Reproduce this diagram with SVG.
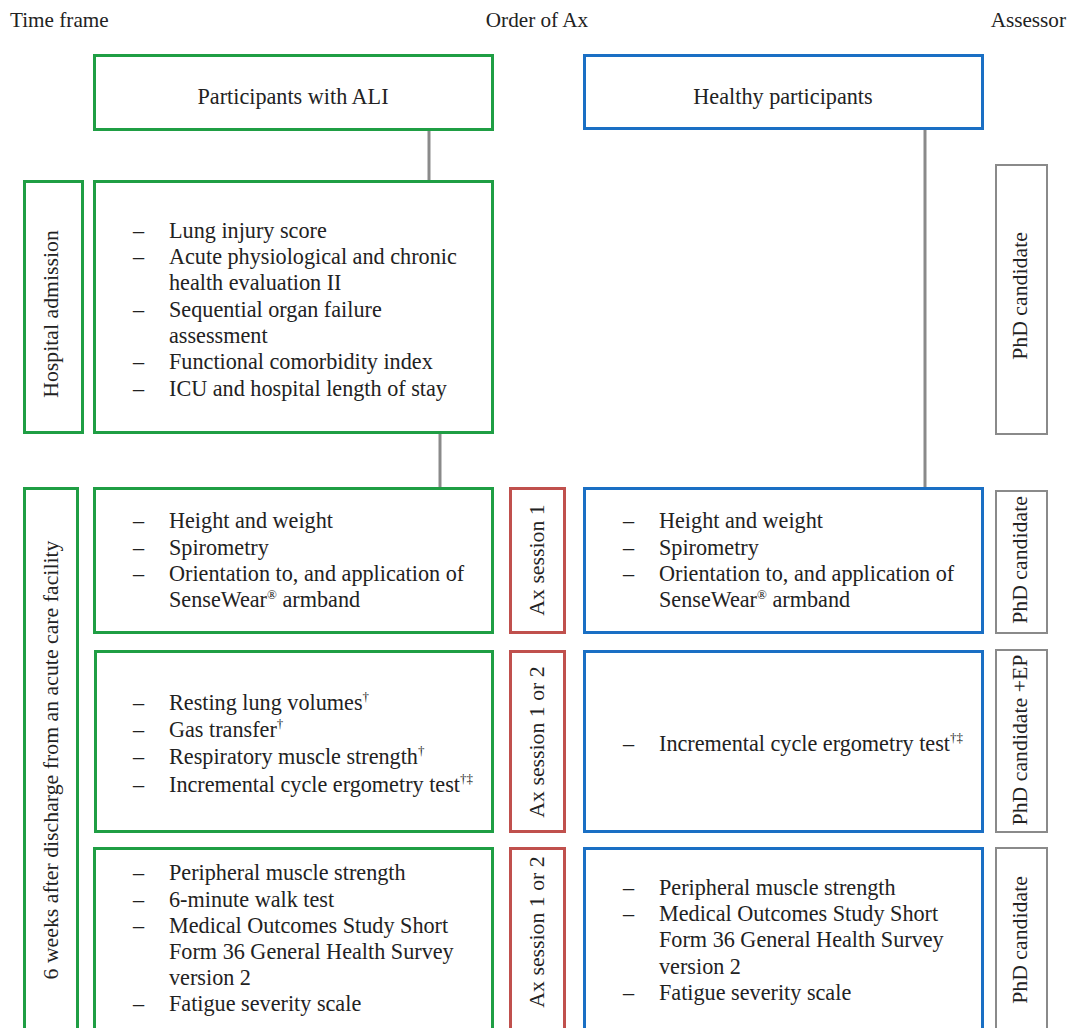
<svg xmlns="http://www.w3.org/2000/svg" width="1074" height="1028" viewBox="0 0 1074 1028">
<style>
text{font-family:"Liberation Serif","Times New Roman",serif;fill:#222;font-size:22.2px}
.h{font-size:21.2px}
.v{font-size:21.8px}
.g{fill:#fff;stroke:#1f9e44;stroke-width:3}
.b{fill:#fff;stroke:#1a6fc4;stroke-width:3}
.r{fill:#fff;stroke:#c0504d;stroke-width:3}
.a{fill:#fff;stroke:#8a8a8a;stroke-width:2}
.c{stroke:#8a8a8a;stroke-width:3;fill:none}
.m{text-anchor:middle}
.sup{font-size:13px;fill:#222}
</style>
<rect width="1074" height="1028" fill="#fff"/>
<g id="headers">
<text x="10" y="27" class="h">Time frame</text>
<text x="537" y="27" class="h m">Order of Ax</text>
<text x="1066" y="27" class="h" text-anchor="end">Assessor</text>
</g>
<g id="connectors">
<line class="c" x1="429" y1="129" x2="429" y2="181"/>
<line class="c" x1="440" y1="432" x2="440" y2="488"/>
<line class="c" x1="925" y1="128" x2="925" y2="488"/>
</g>
<g id="ali">
<rect class="g" x="94.5" y="55.5" width="398" height="74"/>
<text x="293" y="104" class="m">Participants with ALI</text>
</g>
<g id="healthy">
<rect class="b" x="584.5" y="55.5" width="398" height="73"/>
<text x="783" y="104" class="m">Healthy participants</text>
</g>
<g id="hosp-label">
<rect class="g" x="24.5" y="181.5" width="58" height="251"/>
<text transform="translate(58,314) rotate(-90)" class="v m">Hospital admission</text>
</g>
<g id="hosp-ali">
<rect class="g" x="94.5" y="181.5" width="398" height="251"/>
<text x="133" y="238">–</text><text x="169" y="238">Lung injury score</text>
<text x="133" y="264">–</text><text x="169" y="264">Acute physiological and chronic</text>
<text x="169" y="290">health evaluation II</text>
<text x="133" y="317">–</text><text x="169" y="317">Sequential organ failure</text>
<text x="169" y="343">assessment</text>
<text x="133" y="369">–</text><text x="169" y="369">Functional comorbidity index</text>
<text x="133" y="396">–</text><text x="169" y="396">ICU and hospital length of stay</text>
</g>
<g id="hosp-assessor">
<rect class="a" x="996" y="165" width="51" height="269"/>
<text transform="translate(1027,296) rotate(-90)" class="v m">PhD candidate</text>
</g>
<g id="weeks-label">
<rect class="g" x="24.5" y="488.5" width="53" height="560"/>
<text transform="translate(58,760) rotate(-90)" class="v m">6 weeks after discharge from an acute care facility</text>
</g>
<g id="s1-ali">
<rect class="g" x="94.5" y="488.5" width="398" height="144"/>
<text x="133" y="528">–</text><text x="169" y="528">Height and weight</text>
<text x="133" y="555">–</text><text x="169" y="555">Spirometry</text>
<text x="133" y="581">–</text><text x="169" y="581">Orientation to, and application of</text>
<text x="169" y="607">SenseWear<tspan class="sup" dy="-8">®</tspan><tspan dy="8"> armband</tspan></text>
</g>
<g id="s1-order">
<rect class="r" x="510.5" y="488.5" width="54" height="144"/>
<text transform="translate(544,560) rotate(-90)" class="v m">Ax session 1</text>
</g>
<g id="s1-healthy">
<rect class="b" x="584.5" y="488.5" width="398" height="144"/>
<text x="623" y="528">–</text><text x="659" y="528">Height and weight</text>
<text x="623" y="555">–</text><text x="659" y="555">Spirometry</text>
<text x="623" y="581">–</text><text x="659" y="581">Orientation to, and application of</text>
<text x="659" y="607">SenseWear<tspan class="sup" dy="-8">®</tspan><tspan dy="8"> armband</tspan></text>
</g>
<g id="s1-assessor">
<rect class="a" x="996" y="491" width="51" height="142"/>
<text transform="translate(1027,560) rotate(-90)" class="v m">PhD candidate</text>
</g>
<g id="s2-ali">
<rect class="g" x="95.5" y="651.5" width="397" height="180"/>
<text x="133" y="710">–</text><text x="169" y="710">Resting lung volumes<tspan class="sup" dy="-9">†</tspan></text>
<text x="133" y="737">–</text><text x="169" y="737">Gas transfer<tspan class="sup" dy="-9">†</tspan></text>
<text x="133" y="764">–</text><text x="169" y="764">Respiratory muscle strength<tspan class="sup" dy="-9">†</tspan></text>
<text x="133" y="792">–</text><text x="169" y="792">Incremental cycle ergometry test<tspan class="sup" dy="-9">†‡</tspan></text>
</g>
<g id="s2-order">
<rect class="r" x="510.5" y="651.5" width="54" height="180"/>
<text transform="translate(544,742) rotate(-90)" class="v m">Ax session 1 or 2</text>
</g>
<g id="s2-healthy">
<rect class="b" x="584.5" y="651.5" width="398" height="180"/>
<text x="623" y="751">–</text><text x="659" y="751">Incremental cycle ergometry test<tspan class="sup" dy="-9">†‡</tspan></text>
</g>
<g id="s2-assessor">
<rect class="a" x="996" y="650" width="51" height="182"/>
<text transform="translate(1027,740) rotate(-90)" class="v m">PhD candidate +EP</text>
</g>
<g id="s3-ali">
<rect class="g" x="94.5" y="848.5" width="398" height="200"/>
<text x="133" y="880">–</text><text x="169" y="880">Peripheral muscle strength</text>
<text x="133" y="907">–</text><text x="169" y="907">6-minute walk test</text>
<text x="133" y="933">–</text><text x="169" y="933">Medical Outcomes Study Short</text>
<text x="169" y="959">Form 36 General Health Survey</text>
<text x="169" y="985">version 2</text>
<text x="133" y="1011">–</text><text x="169" y="1011">Fatigue severity scale</text>
</g>
<g id="s3-order">
<rect class="r" x="510.5" y="848.5" width="54" height="200"/>
<text transform="translate(544,932) rotate(-90)" class="v m">Ax session 1 or 2</text>
</g>
<g id="s3-healthy">
<rect class="b" x="584.5" y="848.5" width="398" height="200"/>
<text x="623" y="895">–</text><text x="659" y="895">Peripheral muscle strength</text>
<text x="623" y="921">–</text><text x="659" y="921">Medical Outcomes Study Short</text>
<text x="659" y="947">Form 36 General Health Survey</text>
<text x="659" y="974">version 2</text>
<text x="623" y="1000">–</text><text x="659" y="1000">Fatigue severity scale</text>
</g>
<g id="s3-assessor">
<rect class="a" x="996" y="848" width="51" height="200"/>
<text transform="translate(1027,940) rotate(-90)" class="v m">PhD candidate</text>
</g>
</svg>
